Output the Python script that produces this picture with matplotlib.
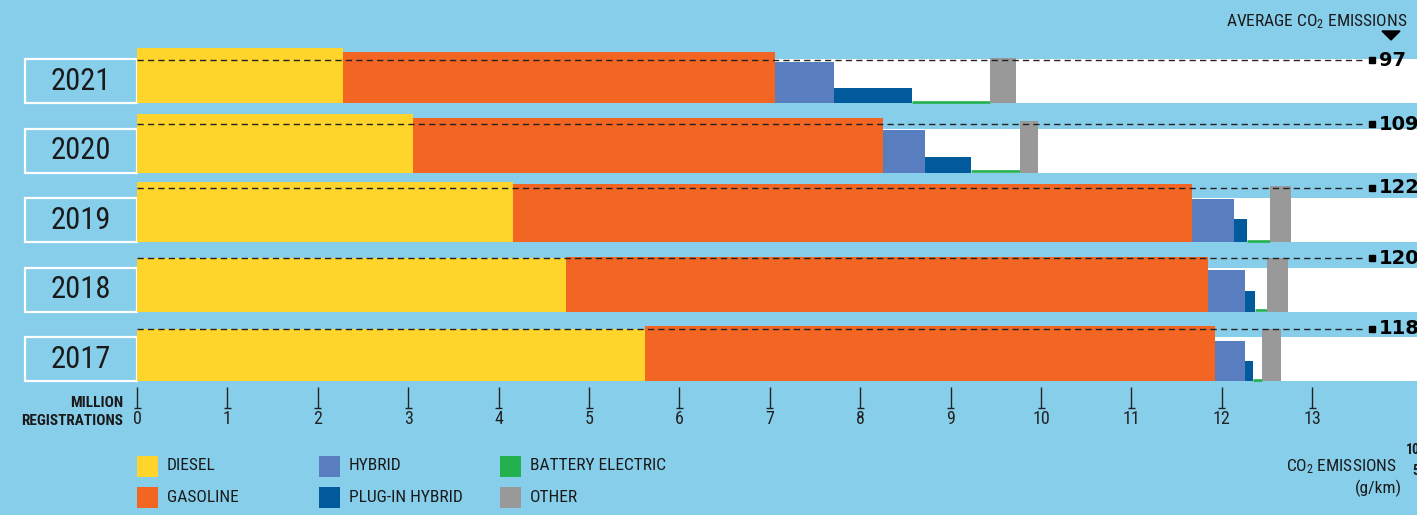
import matplotlib
matplotlib.use("Agg")
import matplotlib.pyplot as plt
from matplotlib import font_manager
from matplotlib.patches import Rectangle, Polygon

# prefer a narrow sans if one is installed
_names = {f.name for f in font_manager.fontManager.ttflist}
NARROW = next((n for n in ["Liberation Sans Narrow", "Roboto Condensed", "Open Sans Condensed",
                           "Noto Sans Condensed", "DejaVu Sans Condensed"] if n in _names),
              "Liberation Sans")
plt.rcParams.update({"font.family": [NARROW, "DejaVu Sans"],
    "mathtext.fontset": "custom", "mathtext.rm": NARROW, "mathtext.default": "rm"})
SHRINK = 1.0 if NARROW != "Liberation Sans" else 0.85

YEARS = ["2021", "2020", "2019", "2018", "2017"]
FUELS = ["DIESEL", "GASOLINE", "HYBRID", "PLUG-IN HYBRID", "BATTERY ELECTRIC", "OTHER"]
COLORS = ["#FFD52B", "#F26522", "#587EBF", "#005A9C", "#23B14D", "#999999"]

# new registrations, million
DIESEL_REG = [2.28, 3.05, 4.16, 4.75, 5.62]
GASOLINE_REG = [4.78, 5.20, 7.51, 7.10, 6.30]
HYBRID_REG = [0.65, 0.47, 0.47, 0.41, 0.34]
PHEV_REG = [0.86, 0.51, 0.14, 0.11, 0.09]
BEV_REG = [0.87, 0.54, 0.25, 0.13, 0.09]
OTHER_REG = [0.28, 0.20, 0.24, 0.23, 0.21]

# average CO2 emissions, g/km
DIESEL_CO2 = [124, 131, 135, 120, 117]
GASOLINE_CO2 = [115, 122, 131, 124, 124]
HYBRID_CO2 = [93, 95, 97, 93, 90]
PHEV_CO2 = [34, 36, 52, 47, 45]
BEV_CO2 = [0, 0, 0, 0, 0]
OTHER_CO2 = [102, 117, 126, 120, 117]
AVG_CO2 = [97, 109, 122, 120, 118]

XTICKS = list(range(14))

REG = [DIESEL_REG, GASOLINE_REG, HYBRID_REG, PHEV_REG, BEV_REG, OTHER_REG]
CO2 = [DIESEL_CO2, GASOLINE_CO2, HYBRID_CO2, PHEV_CO2, BEV_CO2, OTHER_CO2]

BG = "#87CEEB"
INK = "#1a1a1a"
W, H = 1417, 515
X0, SX = 137, 90.4       # pixel of 0 registrations, pixels per million
SY = 0.443               # pixels per g/km
ROW_BASE = [103, 172.5, 242, 311.5, 381]  # pixel row baselines
BAND = 99                # height of white band, g/km

def X(px): return (px - X0) / SX
def Y(py): return (H - py) / SY

fig = plt.figure(figsize=(W / 100, H / 100), dpi=100, facecolor=BG)
ax = fig.add_axes([0, 0, 1, 1])
ax.set_xlim(X(0), X(W)); ax.set_ylim(0, H / SY)
ax.axis("off")

for i, year in enumerate(YEARS):
    base = Y(ROW_BASE[i])
    ax.add_patch(Rectangle((0, base), X(W) + 1, BAND, facecolor="white", lw=0, zorder=1))
    ax.add_patch(Rectangle((X(25), base), -X(25), BAND, facecolor="none",
                           edgecolor="white", lw=1.6, zorder=2))
    ax.text(X(81), base + BAND / 2, year, ha="center", va="center", fontsize=22 * SHRINK,
            color=INK, zorder=3)
    left = 0.0
    for k in range(len(FUELS)):
        w, h = REG[k][i], CO2[k][i]
        ax.bar(left, h, width=w, bottom=base, align="edge", color=COLORS[k], lw=0, zorder=3)
        if FUELS[k] == "BATTERY ELECTRIC":
            ax.hlines(base + h + 1.3 / SY, left, left + w, color=COLORS[k], lw=1.9, zorder=3)
        left += w
    yavg = base + AVG_CO2[i]
    ax.hlines(yavg, 0, X(1366), color="#222222", lw=1.0, linestyles=(0, (4.5, 3)), zorder=4)
    ax.plot(X(1371.5), yavg, marker="s", ms=5, color="black", zorder=5)
    ax.text(X(1379), yavg, str(AVG_CO2[i]), ha="left", va="center", fontsize=14,
            fontweight="bold", family="DejaVu Sans", color="black", zorder=5)

# registrations axis
for t in XTICKS:
    ax.vlines(t, Y(408), Y(387), color="#222222", lw=1.0)
    ax.hlines(Y(408), t - 3.5 / SX, t + 3.5 / SX, color="#222222", lw=1.0)
    ax.text(t, Y(419.5), str(t), ha="center", va="center", fontsize=13 * SHRINK,
            color="#222222")
ax.text(X(123), Y(403), "MILLION", ha="right", va="center", fontsize=11 * SHRINK,
        fontweight="bold", color=INK)
ax.text(X(123), Y(421), "REGISTRATIONS", ha="right", va="center", fontsize=11 * SHRINK,
        fontweight="bold", color=INK)

# header for the averages column
ax.text(X(1407), Y(22), r"AVERAGE CO$_{2}$ EMISSIONS", ha="right", va="center",
        fontsize=12.5 * SHRINK, color=INK)
ax.add_patch(Polygon([(X(1382), Y(31)), (X(1400), Y(31)), (X(1391), Y(40))],
                     closed=True, color="black"))

# legend
legend_pos = [(137, 466), (137, 497), (319, 466), (319, 497), (500, 466), (500, 497)]
for k, (px, py) in enumerate(legend_pos):
    ax.add_patch(Rectangle((X(px), Y(py + 10.5)), 21 / SX, 21 / SY,
                           facecolor=COLORS[k], lw=0))
    ax.text(X(px + 30), Y(py), FUELS[k], ha="left", va="center", fontsize=12.5 * SHRINK,
            color=INK)

ax.text(X(1397), Y(467), r"CO$_{2}$ EMISSIONS", ha="right", va="center",
        fontsize=12.5 * SHRINK, color=INK)
ax.text(X(1402), Y(488), "(g/km)", ha="right", va="center", fontsize=12.5 * SHRINK, color=INK)
ax.text(X(1406), Y(450), "100", ha="left", va="center", fontsize=10, fontweight="bold",
        color=INK)
ax.text(X(1412), Y(471), "50", ha="left", va="center", fontsize=10, fontweight="bold",
        color=INK)

fig.savefig("out.png", dpi=100, facecolor=BG)
